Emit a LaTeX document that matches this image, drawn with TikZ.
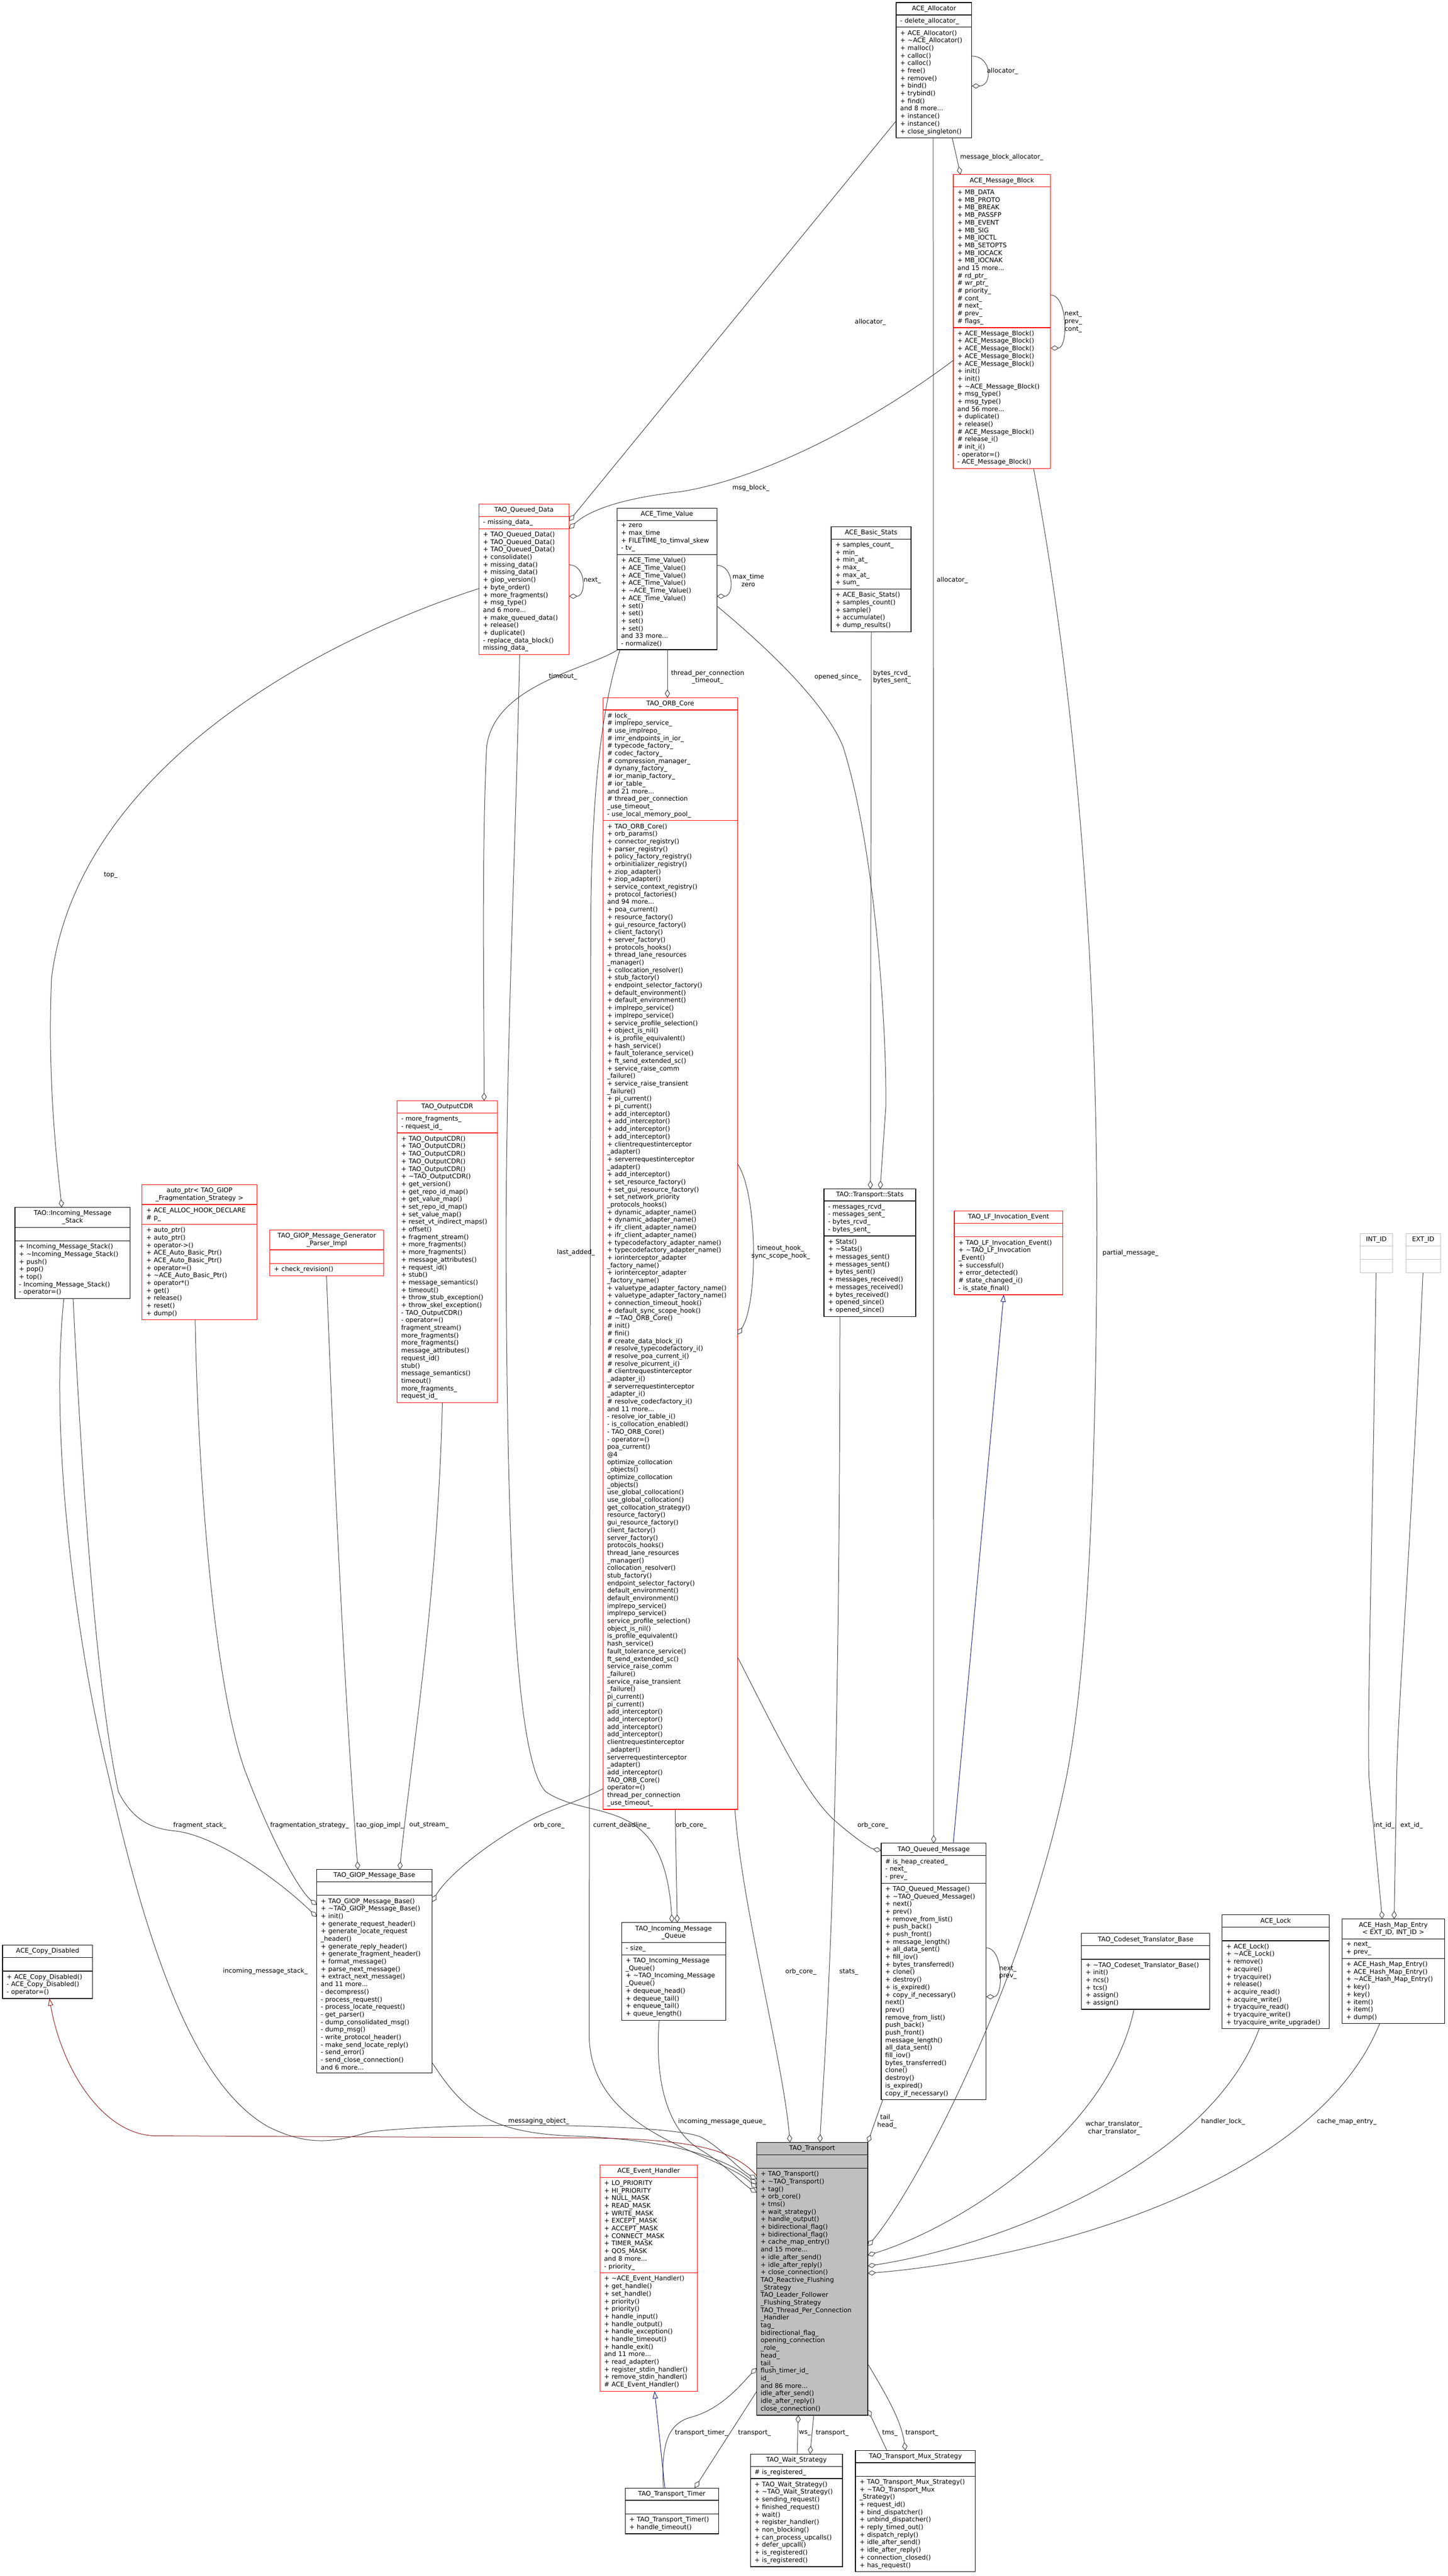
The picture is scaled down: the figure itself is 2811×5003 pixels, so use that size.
\documentclass[tikz,border=0pt]{standalone}
\usepackage{fontspec}
\setmainfont{DejaVu Sans}
\usepackage{tikz}
\usetikzlibrary{
    calc,
    arrows.meta,
    shapes.multipart
}
\definecolor{edgegray}{HTML}{404040}
\definecolor{inhblue}{HTML}{191970}
\definecolor{inhred}{HTML}{8B1A1A}
\definecolor{boxred}{HTML}{FF0000}
\definecolor{boxgray}{HTML}{BFBFBF}
\definecolor{mainfill}{HTML}{BFBFBF}
\newcommand{\boxfont}{\fontsize{6.2}{7.35}\selectfont}
\newcommand{\dtor}{\textasciitilde}
\newcommand{\ctr}[1]{\leavevmode\null\hskip 0pt plus 1filll\relax #1\hskip 0pt plus 1filll\null}
\tikzset{
    classbox/.style={draw=black, fill=white, line width=0.6pt, rectangle split, rectangle split parts=3,
        anchor=north west, inner xsep=4pt, inner ysep=2.6pt, outer sep=0pt, align=left, font=\boxfont},
    redbox/.style={classbox, draw=boxred},
    graybox/.style={classbox, draw=boxgray},
    mainbox/.style={classbox, fill=mainfill},
    uses/.style={draw=edgegray, line width=0.5pt, -{Diamond[open,length=8pt,width=5pt]}},
    inherits/.style={draw=inhblue, line width=0.5pt, -{Triangle[open,length=7pt,width=5pt]}},
    privinh/.style={draw=inhred, line width=0.5pt, -{Triangle[open,length=7pt,width=5pt]}},
    lbl/.style={font=\boxfont, inner sep=0pt, align=center}
}

\begin{document}
\catcode`\_=12
\begin{tikzpicture}[x=0.5pt,y=-0.5pt]
    \path[fill=white, use as bounding box] (0,0) rectangle (2811,5003);

    % classes
    \node[classbox, text width=65.5pt] (alloc) at (1740,5) {\ctr{ACE_Allocator}
        \nodepart{two}- delete_allocator_
        \nodepart{three}+ ACE_Allocator()\\+ \dtor ACE_Allocator()\\+ malloc()\\+ calloc()\\+ calloc()\\+ free()\\+ remove()\\+ bind()\\+ trybind()\\+ find()\\and 8 more...\\+ instance()\\+ instance()\\+ close_singleton()};
    \node[redbox, text width=86.5pt] (msgblock) at (1851,339) {\ctr{ACE_Message_Block}
        \nodepart{two}+ MB_DATA\\+ MB_PROTO\\+ MB_BREAK\\+ MB_PASSFP\\+ MB_EVENT\\+ MB_SIG\\+ MB_IOCTL\\+ MB_SETOPTS\\+ MB_IOCACK\\+ MB_IOCNAK\\and 15 more...\\\# rd_ptr_\\\# wr_ptr_\\\# priority_\\\# cont_\\\# next_\\\# prev_\\\# flags_
        \nodepart{three}+ ACE_Message_Block()\\+ ACE_Message_Block()\\+ ACE_Message_Block()\\+ ACE_Message_Block()\\+ ACE_Message_Block()\\+ init()\\+ init()\\+ \dtor ACE_Message_Block()\\+ msg_type()\\+ msg_type()\\and 56 more...\\+ duplicate()\\+ release()\\\# ACE_Message_Block()\\\# release_i()\\\# init_i()\\- operator=()\\- ACE_Message_Block()};
    \node[redbox, text width=79.5pt] (queueddata) at (930,979) {\ctr{TAO_Queued_Data}
        \nodepart{two}- missing_data_
        \nodepart{three}+ TAO_Queued_Data()\\+ TAO_Queued_Data()\\+ TAO_Queued_Data()\\+ consolidate()\\+ missing_data()\\+ missing_data()\\+ giop_version()\\+ byte_order()\\+ more_fragments()\\+ msg_type()\\and 6 more...\\+ make_queued_data()\\+ release()\\+ duplicate()\\- replace_data_block()\\* missing_data_};
    \node[classbox, text width=89pt] (timevalue) at (1198,987) {\ctr{ACE_Time_Value}
        \nodepart{two}+ zero\\+ max_time\\+ FILETIME_to_timval_skew\\- tv_
        \nodepart{three}+ ACE_Time_Value()\\+ ACE_Time_Value()\\+ ACE_Time_Value()\\+ ACE_Time_Value()\\+ \dtor ACE_Time_Value()\\+ ACE_Time_Value()\\+ set()\\+ set()\\+ set()\\+ set()\\and 33 more...\\- normalize()};
    \node[classbox, text width=69.5pt] (basicstats) at (1614,1023) {\ctr{ACE_Basic_Stats}
        \nodepart{two}+ samples_count_\\+ min_\\+ min_at_\\+ max_\\+ max_at_\\+ sum_
        \nodepart{three}+ ACE_Basic_Stats()\\+ samples_count()\\+ sample()\\+ accumulate()\\+ dump_results()};
    \node[redbox, text width=122.5pt] (orbcore) at (1171,1355) {\ctr{TAO_ORB_Core}
        \nodepart{two}\# lock_\\\# implrepo_service_\\\# use_implrepo_\\\# imr_endpoints_in_ior_\\\# typecode_factory_\\\# codec_factory_\\\# compression_manager_\\\# dynany_factory_\\\# ior_manip_factory_\\\# ior_table_\\and 21 more...\\\# thread_per_connection\\_use_timeout_\\- use_local_memory_pool_
        \nodepart{three}+ TAO_ORB_Core()\\+ orb_params()\\+ connector_registry()\\+ parser_registry()\\+ policy_factory_registry()\\+ orbinitializer_registry()\\+ ziop_adapter()\\+ ziop_adapter()\\+ service_context_registry()\\+ protocol_factories()\\and 94 more...\\+ poa_current()\\+ resource_factory()\\+ gui_resource_factory()\\+ client_factory()\\+ server_factory()\\+ protocols_hooks()\\+ thread_lane_resources\\_manager()\\+ collocation_resolver()\\+ stub_factory()\\+ endpoint_selector_factory()\\+ default_environment()\\+ default_environment()\\+ implrepo_service()\\+ implrepo_service()\\+ service_profile_selection()\\+ object_is_nil()\\+ is_profile_equivalent()\\+ hash_service()\\+ fault_tolerance_service()\\+ ft_send_extended_sc()\\+ service_raise_comm\\_failure()\\+ service_raise_transient\\_failure()\\+ pi_current()\\+ pi_current()\\+ add_interceptor()\\+ add_interceptor()\\+ add_interceptor()\\+ add_interceptor()\\+ clientrequestinterceptor\\_adapter()\\+ serverrequestinterceptor\\_adapter()\\+ add_interceptor()\\+ set_resource_factory()\\+ set_gui_resource_factory()\\+ set_network_priority\\_protocols_hooks()\\+ dynamic_adapter_name()\\+ dynamic_adapter_name()\\+ ifr_client_adapter_name()\\+ ifr_client_adapter_name()\\+ typecodefactory_adapter_name()\\+ typecodefactory_adapter_name()\\+ iorinterceptor_adapter\\_factory_name()\\+ iorinterceptor_adapter\\_factory_name()\\+ valuetype_adapter_factory_name()\\+ valuetype_adapter_factory_name()\\+ connection_timeout_hook()\\+ default_sync_scope_hook()\\\# \dtor TAO_ORB_Core()\\\# init()\\\# fini()\\\# create_data_block_i()\\\# resolve_typecodefactory_i()\\\# resolve_poa_current_i()\\\# resolve_picurrent_i()\\\# clientrequestinterceptor\\_adapter_i()\\\# serverrequestinterceptor\\_adapter_i()\\\# resolve_codecfactory_i()\\and 11 more...\\- resolve_ior_table_i()\\- is_collocation_enabled()\\- TAO_ORB_Core()\\- operator=()\\* poa_current()\\* @4\\* optimize_collocation\\_objects()\\* optimize_collocation\\_objects()\\* use_global_collocation()\\* use_global_collocation()\\* get_collocation_strategy()\\* resource_factory()\\* gui_resource_factory()\\* client_factory()\\* server_factory()\\* protocols_hooks()\\* thread_lane_resources\\_manager()\\* collocation_resolver()\\* stub_factory()\\* endpoint_selector_factory()\\* default_environment()\\* default_environment()\\* implrepo_service()\\* implrepo_service()\\* service_profile_selection()\\* object_is_nil()\\* is_profile_equivalent()\\* hash_service()\\* fault_tolerance_service()\\* ft_send_extended_sc()\\* service_raise_comm\\_failure()\\* service_raise_transient\\_failure()\\* pi_current()\\* pi_current()\\* add_interceptor()\\* add_interceptor()\\* add_interceptor()\\* add_interceptor()\\* clientrequestinterceptor\\_adapter()\\* serverrequestinterceptor\\_adapter()\\* add_interceptor()\\* TAO_ORB_Core()\\* operator=()\\* thread_per_connection\\_use_timeout_};
    \node[classbox, text width=104pt] (msgstack) at (29,2345) {\ctr{TAO::Incoming_Message}\\\ctr{_Stack}
        \nodepart{two}\strut
        \nodepart{three}+ Incoming_Message_Stack()\\+ \dtor Incoming_Message_Stack()\\+ push()\\+ pop()\\+ top()\\- Incoming_Message_Stack()\\- operator=()};
    \node[redbox, text width=103.5pt] (autoptr) at (276,2301) {\ctr{auto_ptr< TAO_GIOP}\\\ctr{_Fragmentation_Strategy >}
        \nodepart{two}+ ACE_ALLOC_HOOK_DECLARE\\\# p_
        \nodepart{three}+ auto_ptr()\\+ auto_ptr()\\+ operator->()\\+ ACE_Auto_Basic_Ptr()\\+ ACE_Auto_Basic_Ptr()\\+ operator=()\\+ \dtor ACE_Auto_Basic_Ptr()\\+ operator*()\\+ get()\\+ release()\\+ reset()\\+ dump()};
    \node[redbox, text width=102.5pt] (generator) at (524,2389) {\ctr{TAO_GIOP_Message_Generator}\\\ctr{_Parser_Impl}
        \nodepart{two}\strut
        \nodepart{three}+ check_revision()};
    \node[redbox, text width=89.5pt] (outputcdr) at (771,2138) {\ctr{TAO_OutputCDR}
        \nodepart{two}- more_fragments_\\- request_id_
        \nodepart{three}+ TAO_OutputCDR()\\+ TAO_OutputCDR()\\+ TAO_OutputCDR()\\+ TAO_OutputCDR()\\+ TAO_OutputCDR()\\+ \dtor TAO_OutputCDR()\\+ get_version()\\+ get_repo_id_map()\\+ get_value_map()\\+ set_repo_id_map()\\+ set_value_map()\\+ reset_vt_indirect_maps()\\+ offset()\\+ fragment_stream()\\+ more_fragments()\\+ more_fragments()\\+ message_attributes()\\+ request_id()\\+ stub()\\+ message_semantics()\\+ timeout()\\+ throw_stub_exception()\\+ throw_skel_exception()\\- TAO_OutputCDR()\\- operator=()\\* fragment_stream()\\* more_fragments()\\* more_fragments()\\* message_attributes()\\* request_id()\\* stub()\\* message_semantics()\\* timeout()\\* more_fragments_\\* request_id_};
    \node[classbox, text width=81pt] (tstats) at (1600,2309) {\ctr{TAO::Transport::Stats}
        \nodepart{two}- messages_rcvd_\\- messages_sent_\\- bytes_rcvd_\\- bytes_sent_
        \nodepart{three}+ Stats()\\+ \dtor Stats()\\+ messages_sent()\\+ messages_sent()\\+ bytes_sent()\\+ messages_received()\\+ messages_received()\\+ bytes_received()\\+ opened_since()\\+ opened_since()};
    \node[redbox, text width=97.5pt] (lfevent) at (1853,2352) {\ctr{TAO_LF_Invocation_Event}
        \nodepart{two}\strut
        \nodepart{three}+ TAO_LF_Invocation_Event()\\+ \dtor TAO_LF_Invocation\\_Event()\\+ successful()\\+ error_detected()\\\# state_changed_i()\\- is_state_final()};
    \node[graybox, text width=23.5pt] (intid) at (2641,2396) {\ctr{INT_ID}
        \nodepart{two}\strut
        \nodepart{three}\strut};
    \node[graybox, text width=25.5pt] (extid) at (2730,2396) {\ctr{EXT_ID}
        \nodepart{two}\strut
        \nodepart{three}\strut};
    \node[classbox, text width=79.5pt] (copydis) at (5,3778) {\ctr{ACE_Copy_Disabled}
        \nodepart{two}\strut
        \nodepart{three}+ ACE_Copy_Disabled()\\- ACE_Copy_Disabled()\\- operator=()};
    \node[classbox, text width=104pt] (giopbase) at (615,3631) {\ctr{TAO_GIOP_Message_Base}
        \nodepart{two}\strut
        \nodepart{three}+ TAO_GIOP_Message_Base()\\+ \dtor TAO_GIOP_Message_Base()\\+ init()\\+ generate_request_header()\\+ generate_locate_request\\_header()\\+ generate_reply_header()\\+ generate_fragment_header()\\+ format_message()\\+ parse_next_message()\\+ extract_next_message()\\and 11 more...\\- decompress()\\- process_request()\\- process_locate_request()\\- get_parser()\\- dump_consolidated_msg()\\- dump_msg()\\- write_protocol_header()\\- make_send_locate_reply()\\- send_error()\\- send_close_connection()\\and 6 more...};
    \node[classbox, text width=93pt] (msgqueue) at (1207,3734) {\ctr{TAO_Incoming_Message}\\\ctr{_Queue}
        \nodepart{two}- size_
        \nodepart{three}+ TAO_Incoming_Message\\_Queue()\\+ \dtor TAO_Incoming_Message\\_Queue()\\+ dequeue_head()\\+ dequeue_tail()\\+ enqueue_tail()\\+ queue_length()};
    \node[classbox, text width=94pt] (queuedmsg) at (1711,3580) {\ctr{TAO_Queued_Message}
        \nodepart{two}\# is_heap_created_\\- next_\\- prev_
        \nodepart{three}+ TAO_Queued_Message()\\+ \dtor TAO_Queued_Message()\\+ next()\\+ prev()\\+ remove_from_list()\\+ push_back()\\+ push_front()\\+ message_length()\\+ all_data_sent()\\+ fill_iov()\\+ bytes_transferred()\\+ clone()\\+ destroy()\\+ is_expired()\\+ copy_if_necessary()\\* next()\\* prev()\\* remove_from_list()\\* push_back()\\* push_front()\\* message_length()\\* all_data_sent()\\* fill_iov()\\* bytes_transferred()\\* clone()\\* destroy()\\* is_expired()\\* copy_if_necessary()};
    \node[classbox, text width=116.5pt] (codeset) at (2100,3755) {\ctr{TAO_Codeset_Translator_Base}
        \nodepart{two}\strut
        \nodepart{three}+ \dtor TAO_Codeset_Translator_Base()\\+ init()\\+ ncs()\\+ tcs()\\+ assign()\\+ assign()};
    \node[classbox, text width=96pt] (acelock) at (2373,3719) {\ctr{ACE_Lock}
        \nodepart{two}\strut
        \nodepart{three}+ ACE_Lock()\\+ \dtor ACE_Lock()\\+ remove()\\+ acquire()\\+ tryacquire()\\+ release()\\+ acquire_read()\\+ acquire_write()\\+ tryacquire_read()\\+ tryacquire_write()\\+ tryacquire_write_upgrade()};
    \node[classbox, text width=91.5pt] (hashentry) at (2606,3727) {\ctr{ACE_Hash_Map_Entry}\\\ctr{< EXT_ID, INT_ID >}
        \nodepart{two}+ next_\\+ prev_
        \nodepart{three}+ ACE_Hash_Map_Entry()\\+ ACE_Hash_Map_Entry()\\+ \dtor ACE_Hash_Map_Entry()\\+ key()\\+ key()\\+ item()\\+ item()\\+ dump()};
    \node[mainbox, text width=100pt] (transport) at (1469,4161) {\ctr{TAO_Transport}
        \nodepart{two}\strut
        \nodepart{three}+ TAO_Transport()\\+ \dtor TAO_Transport()\\+ tag()\\+ orb_core()\\+ tms()\\+ wait_strategy()\\+ handle_output()\\+ bidirectional_flag()\\+ bidirectional_flag()\\+ cache_map_entry()\\and 15 more...\\+ idle_after_send()\\+ idle_after_reply()\\+ close_connection()\\* TAO_Reactive_Flushing\\_Strategy\\* TAO_Leader_Follower\\_Flushing_Strategy\\* TAO_Thread_Per_Connection\\_Handler\\* tag_\\* bidirectional_flag_\\* opening_connection\\_role_\\* head_\\* tail_\\* flush_timer_id_\\* id_\\and 86 more...\\* idle_after_send()\\* idle_after_reply()\\* close_connection()};
    \node[redbox, text width=86.5pt] (eventhandler) at (1165,4205) {\ctr{ACE_Event_Handler}
        \nodepart{two}+ LO_PRIORITY\\+ HI_PRIORITY\\+ NULL_MASK\\+ READ_MASK\\+ WRITE_MASK\\+ EXCEPT_MASK\\+ ACCEPT_MASK\\+ CONNECT_MASK\\+ TIMER_MASK\\+ QOS_MASK\\and 8 more...\\- priority_
        \nodepart{three}+ \dtor ACE_Event_Handler()\\+ get_handle()\\+ set_handle()\\+ priority()\\+ priority()\\+ handle_input()\\+ handle_output()\\+ handle_exception()\\+ handle_timeout()\\+ handle_exit()\\and 11 more...\\+ read_adapter()\\+ register_stdin_handler()\\+ remove_stdin_handler()\\\# ACE_Event_Handler()};
    \node[classbox, text width=82.5pt] (timer) at (1214,4832) {\ctr{TAO_Transport_Timer}
        \nodepart{two}\strut
        \nodepart{three}+ TAO_Transport_Timer()\\+ handle_timeout()};
    \node[classbox, text width=81.5pt] (waitstrat) at (1457,4766) {\ctr{TAO_Wait_Strategy}
        \nodepart{two}\# is_registered_
        \nodepart{three}+ TAO_Wait_Strategy()\\+ \dtor TAO_Wait_Strategy()\\+ sending_request()\\+ finished_request()\\+ wait()\\+ register_handler()\\+ non_blocking()\\+ can_process_upcalls()\\+ defer_upcall()\\+ is_registered()\\+ is_registered()};
    \node[classbox, text width=108.5pt] (muxstrat) at (1661,4759) {\ctr{TAO_Transport_Mux_Strategy}
        \nodepart{two}\strut
        \nodepart{three}+ TAO_Transport_Mux_Strategy()\\+ \dtor TAO_Transport_Mux\\_Strategy()\\+ request_id()\\+ bind_dispatcher()\\+ unbind_dispatcher()\\+ reply_timed_out()\\+ dispatch_reply()\\+ idle_after_send()\\+ idle_after_reply()\\+ connection_closed()\\+ has_request()};

    % members
    \draw[uses] ($(alloc.north east)+(0,104)$) .. controls +(40,0) and +(40,0) .. ($(alloc.north east)+(0,162)$)
        node[lbl, anchor=west] at (1916,138) {allocator_};
    \draw[uses] ($(alloc.south west)+(109,0)$) -- ($(msgblock.north west)+(14,0)$)
        node[lbl, anchor=west] at (1864,305) {message_block_allocator_};
    \draw[uses] ($(msgblock.north east)+(0,234)$) .. controls +(34,0) and +(34,0) .. ($(msgblock.north east)+(0,337)$)
        node[lbl] at (2084,625) {next_\\prev_\\cont_};
    \draw[uses] ($(alloc.north west)+(0,230)$) -- ($(queueddata.north east)+(0,33)$)
        node[lbl] at (1690,626) {allocator_};
    \draw[uses] ($(msgblock.north west)+(0,361)$) .. controls (1650,850) and (1450,935) .. (1321,955)
        .. controls (1230,965) and (1150,985) .. ($(queueddata.north east)+(0,48)$)
        node[lbl] at (1458,948) {msg_block_};
    \draw[uses] ($(queueddata.north east)+(0,118)$) .. controls +(34,0) and +(34,0) .. ($(queueddata.north east)+(0,179)$)
        node[lbl] at (1150,1127) {next_};
    \draw[uses] ($(timevalue.north east)+(0,111)$) .. controls +(34,0) and +(34,0) .. ($(timevalue.north east)+(0,171)$)
        node[lbl] at (1453,1127) {max_time\\zero};
    \draw[uses] ($(timevalue.south west)+(98,0)$) -- ($(orbcore.north west)+(125,0)$)
        node[lbl] at (1374,1315) {thread_per_connection\\_timeout_};
    \draw[uses] ($(timevalue.south west)+(2,0)$) .. controls (1140,1300) and (960,1330) .. (945,1450)
        .. controls (935,1650) and (940,1950) .. ($(outputcdr.north west)+(169,0)$)
        node[lbl] at (1093,1314) {timeout_};
    \draw[uses] ($(timevalue.south west)+(6,0)$) .. controls (1160,1400) and (1148,1600) .. (1147,1800)
        -- (1144,3950) .. controls (1144,4150) and (1400,4180) .. ($(transport.north west)+(0,89)$)
        node[lbl] at (1207,3545) {current_deadline_};
    \draw[uses] ($(alloc.south west)+(72,0)$) -- ($(queuedmsg.north west)+(102,0)$)
        node[lbl] at (1849,1127) {allocator_};
    \draw[uses] ($(basicstats.south west)+(78,0)$) -- ($(tstats.north west)+(90,0)$)
        node[lbl] at (1732,1315) {bytes_rcvd_\\bytes_sent_};
    \draw[uses] ($(timevalue.north east)+(0,190)$) .. controls (1480,1250) and (1600,1360) .. (1637,1450)
        .. controls (1700,1650) and (1722,2000) .. (1720,2150) -- ($(tstats.north west)+(109,0)$)
        node[lbl] at (1627,1315) {opened_since_};
    \draw[uses] ($(orbcore.north east)+(0,905)$) .. controls +(40,60) and +(40,-60) .. ($(orbcore.north east)+(0,1237)$)
        node[lbl] at (1516,2432) {timeout_hook_\\sync_scope_hook_};
    \draw[uses] ($(queueddata.north west)+(0,164)$) .. controls (600,1250) and (150,1500) .. (100,1900)
        .. controls (92,2100) and (110,2250) .. ($(msgstack.north west)+(91,0)$)
        node[lbl] at (215,1700) {top_};
    \draw[uses] ($(queueddata.south west)+(79,0)$) .. controls (1000,1700) and (980,2100) .. (983,2500)
        .. controls (986,3000) and (1000,3420) .. (1060,3480) .. controls (1150,3540) and (1290,3480) .. ($(msgqueue.north west)+(98,0)$)
        node[lbl, anchor=west] at (1081,2433) {last_added_};
    \draw[uses] ($(msgblock.south west)+(156,0)$) .. controls (2080,1300) and (2130,1800) .. (2130,2400)
        .. controls (2128,2900) and (2110,3250) .. (2071,3450) .. controls (1990,3850) and (1780,4250) .. ($(transport.north east)+(0,201)$)
        node[lbl] at (2195,2434) {partial_message_};
    \draw[uses] ($(intid.south west)+(31,0)$) .. controls (2665,3000) and (2655,3300) .. (2658,3450) -- ($(hashentry.north west)+(78,0)$)
        node[lbl] at (2688,3545) {int_id_};
    \draw[uses] ($(extid.south west)+(33,0)$) .. controls (2740,3000) and (2715,3300) .. (2712,3450) -- ($(hashentry.north west)+(101,0)$)
        node[lbl] at (2741,3545) {ext_id_};

    \draw[uses] ($(msgstack.south west)+(113,0)$) .. controls (160,2900) and (190,3300) .. (230,3480)
        .. controls (260,3540) and (300,3552) .. (340,3556) .. controls (420,3565) and (540,3650) .. ($(giopbase.north west)+(0,92)$)
        node[lbl] at (388,3545) {fragment_stack_};
    \draw[uses] ($(autoptr.south west)+(103,0)$) .. controls (385,2900) and (420,3300) .. (480,3450)
        .. controls (530,3580) and (580,3670) .. ($(giopbase.north west)+(0,69)$)
        node[lbl] at (601,3545) {fragmentation_strategy_};
    \draw[uses] ($(generator.south west)+(110,0)$) .. controls (650,2900) and (670,3300) .. ($(giopbase.north west)+(80,0)$)
        node[lbl] at (738,3545) {tao_giop_impl_};
    \draw[uses] ($(outputcdr.south west)+(88,0)$) .. controls (850,3100) and (800,3400) .. ($(giopbase.north west)+(161,0)$)
        node[lbl] at (833,3545) {out_stream_};
    \draw[uses] ($(orbcore.south west)+(0,-40)$) .. controls (1120,3500) and (1080,3510) .. (1040,3530)
        .. controls (960,3570) and (870,3640) .. ($(giopbase.north east)+(0,63)$)
        node[lbl] at (1066,3545) {orb_core_};
    \draw[uses] ($(orbcore.south west)+(140,0)$) -- ($(msgqueue.north west)+(108,0)$)
        node[lbl] at (1342,3545) {orb_core_};
    \draw[uses] ($(orbcore.north east)+(0,1863)$) .. controls (1500,3350) and (1560,3480) .. (1620,3535)
        .. controls (1660,3570) and (1690,3590) .. ($(queuedmsg.north west)+(0,14)$)
        node[lbl] at (1695,3545) {orb_core_};
    \draw[uses] ($(orbcore.south east)+(-5,0)$) .. controls (1440,3700) and (1520,4000) .. ($(transport.north west)+(65,0)$)
        node[lbl] at (1555,3830) {orb_core_};
    \draw[uses] ($(tstats.south west)+(31,0)$) .. controls (1630,3700) and (1600,4000) .. ($(transport.north west)+(123,0)$)
        node[lbl] at (1648,3830) {stats_};
    \draw[uses] ($(queuedmsg.north east)+(0,203)$) .. controls +(34,0) and +(34,0) .. ($(queuedmsg.north east)+(0,298)$)
        node[lbl] at (1957,3831) {next_\\prev_};

    \draw[uses] ($(msgstack.south west)+(95,0)$) .. controls (95,2800) and (150,3200) .. (211,3450)
        .. controls (290,3800) and (380,4050) .. (520,4130) .. controls (600,4170) and (650,4160) .. (720,4140)
        .. controls (900,4120) and (1300,4125) .. (1360,4150) .. controls (1400,4170) and (1430,4210) .. ($(transport.north west)+(0,71)$)
        node[lbl] at (515,3829) {incoming_message_stack_};
    \draw[uses] ($(giopbase.south east)+(0,-20)$) .. controls (900,4100) and (950,4140) .. (1100,4148)
        .. controls (1330,4155) and (1420,4200) .. ($(transport.north west)+(0,81)$)
        node[lbl] at (1046,4120) {messaging_object_};
    \draw[uses] ($(msgqueue.south west)+(73,0)$) .. controls (1270,4050) and (1300,4140) .. (1360,4175)
        .. controls (1410,4205) and (1440,4240) .. ($(transport.north west)+(0,97)$)
        node[lbl] at (1402,4121) {incoming_message_queue_};
    \draw[uses] ($(queuedmsg.south west)+(3,0)$) -- (transport.north east)
        node[lbl] at (1722,4120) {tail_\\head_};
    \draw[uses] ($(codeset.south west)+(102,0)$) .. controls (2150,4150) and (1850,4330) .. ($(transport.north east)+(0,219)$)
        node[lbl] at (2163,4133) {wchar_translator_\\char_translator_};
    \draw[uses] ($(acelock.south west)+(72,0)$) .. controls (2350,4200) and (1950,4360) .. ($(transport.north east)+(0,240)$)
        node[lbl] at (2375,4121) {handler_lock_};
    \draw[uses] ($(hashentry.south west)+(73,0)$) .. controls (2550,4250) and (2000,4390) .. ($(transport.north east)+(0,254)$)
        node[lbl] at (2615,4121) {cache_map_entry_};

    \draw[uses] ($(timer.north west)+(74,0)$) .. controls (1285,4760) and (1290,4710) .. (1340,4695)
        .. controls (1400,4680) and (1440,4630) .. ($(transport.north west)+(0,438)$)
        node[lbl] at (1362,4725) {transport_timer_};
    \draw[uses] ($(transport.north west)+(0,484)$) -- ($(timer.north west)+(135,0)$)
        node[lbl] at (1465,4725) {transport_};
    \draw[uses] ($(waitstrat.north west)+(91,0)$) -- ($(transport.south west)+(81,0)$)
        node[lbl] at (1563,4725) {ws_};
    \draw[uses] ($(transport.south west)+(111,0)$) -- ($(waitstrat.north west)+(116,0)$)
        node[lbl] at (1616,4725) {transport_};
    \draw[uses] ($(muxstrat.north west)+(61,0)$) -- ($(transport.south east)+(0,-11)$)
        node[lbl] at (1728,4725) {tms_};
    \draw[uses] ($(transport.north east)+(0,430)$) .. controls (1720,4650) and (1750,4700) .. ($(muxstrat.north west)+(97,0)$)
        node[lbl] at (1790,4725) {transport_};

    % inheritance
    \draw[inherits] ($(queuedmsg.north west)+(140,0)$) -- ($(lfevent.south west)+(96,0)$);
    \draw[inherits] ($(timer.north west)+(77,0)$) -- ($(eventhandler.south west)+(106,0)$);
    \draw[privinh] ($(transport.north west)+(0,64)$) .. controls (1420,4170) and (1330,4152) .. (1100,4152)
        -- (300,4148) .. controls (200,4145) and (120,4020) .. ($(copydis.south west)+(91,0)$);
\end{tikzpicture}
\end{document}
